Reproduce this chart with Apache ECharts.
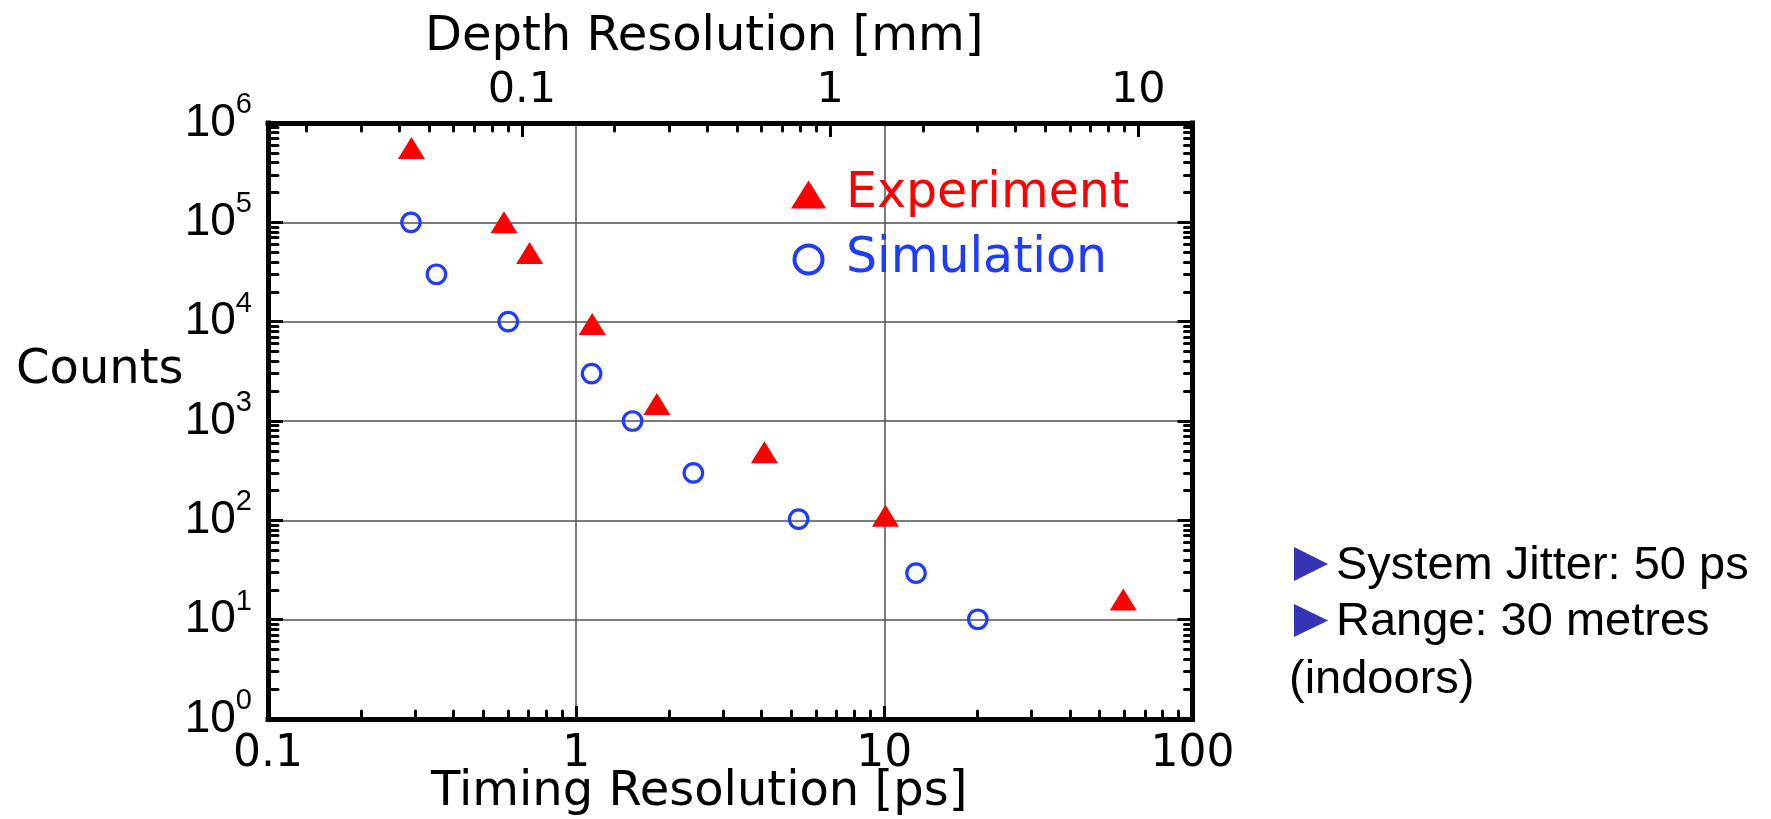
<!DOCTYPE html>
<html>
<head>
<meta charset="utf-8">
<script src="https://cdn.jsdelivr.net/npm/echarts@6/dist/echarts.min.js"></script>
<style>
html,body{margin:0;padding:0;background:#ffffff;}
#chart{width:1771px;height:819px;}
</style>
</head>
<body>
<div id="chart"></div>
<script>
// ---- data ----
const expTiming = [0.292, 0.583, 0.706, 1.127, 1.827, 4.08, 10.08, 59.6];   // ps
const expCounts = [5.6e5, 1.0e5, 4.9e4, 9.5e3, 1.48e3, 486, 111, 16];
const simTiming = [0.291, 0.352, 0.602, 1.122, 1.524, 2.40, 5.27, 12.67, 20.1]; // ps
const simCounts = [1.0e5, 3.0e4, 1.0e4, 3.0e3, 1.0e3, 300, 103, 29.4, 10.1];

// ---- axes / ticks ----
const timingRange = [0.1, 100];          // ps
const depthPerPs = 0.15;                 // mm per ps (c/2)
const timingTicks = [0.1, 1, 10, 100];
const timingMinorTicks = [0.2,0.3,0.4,0.5,0.6,0.7,0.8,0.9, 2,3,4,5,6,7,8,9, 20,30,40,50,60,70,80,90];
const depthTicks = [0.1, 1, 10];
const depthMinorTicks = [0.02,0.03,0.04,0.05,0.06,0.07,0.08,0.09, 0.2,0.3,0.4,0.5,0.6,0.7,0.8,0.9, 2,3,4,5,6,7,8,9];
const countRange = [1, 1e6];
const countTicks = [1, 10, 100, 1e3, 1e4, 1e5, 1e6];
const countMinorMantissas = [2,3,4,5,6,7,8,9];
const countMinorDecades = [1, 10, 100, 1e3, 1e4, 1e5];
const countMinorTicks = [];
countMinorDecades.forEach(d => countMinorMantissas.forEach(m => countMinorTicks.push(m * d)));

const legendNames = ['Experiment', 'Simulation'];
const notes = ['System Jitter: 50 ps', 'Range: 30 metres', '(indoors)'];
const axisTitles = { timing: 'Timing Resolution [ps]', depth: 'Depth Resolution [mm]', counts: 'Counts' };

const RED = '#ff0000';
const BLUE = '#1e3cff';
const BULLET = '#3434b4';
const GRID = '#505050';

const depthRange = [timingRange[0] * depthPerPs, timingRange[1] * depthPerPs];
const fmtNum = v => String(+Number(v).toPrecision(6));

function majorAxis(extra) {
  return Object.assign({
    type: 'log', logBase: 10,
    axisLine: { show: true, onZero: false, lineStyle: { color: '#000', width: 5, cap: 'square' } },
    minorTick: { show: false }, minorSplitLine: { show: false }
  }, extra);
}
function minorAxis(extra, len, ticks) {
  return Object.assign({
    type: 'log', logBase: 10,
    axisLine: { show: false, onZero: false },
    axisTick: { show: true, inside: true, length: len, customValues: ticks,
                lineStyle: { color: '#000', width: 3, cap: 'round' } },
    axisLabel: { show: false },
    splitLine: { show: false },
    minorTick: { show: false }, minorSplitLine: { show: false }
  }, extra);
}

const chart = echarts.init(document.getElementById('chart'), null, { renderer: 'canvas' });

const option = {
  animation: false,
  backgroundColor: '#ffffff',
  grid: { left: 268, right: 578.5, top: 123, bottom: 100, containLabel: false, outerBoundsMode: 'none' },
  legend: {
    orient: 'vertical', left: 791, top: 167.5, padding: 0,
    itemWidth: 35, itemHeight: 28, itemGap: 11,
    selectedMode: false,
    textStyle: { fontFamily: 'DejaVu Sans', fontSize: 49, lineHeight: 49, padding: [5, 0, 0, 15] },
    data: [
      { name: legendNames[0], icon: 'triangle', itemStyle: { color: RED, opacity: 1 }, textStyle: { color: RED } },
      { name: legendNames[1], icon: 'circle',
        itemStyle: { color: 'rgba(0,0,0,0)', borderColor: BLUE, borderWidth: 4, opacity: 1 },
        textStyle: { color: BLUE } }
    ]
  },
  xAxis: [
    majorAxis({
      position: 'bottom', min: timingRange[0], max: timingRange[1],
      axisTick: { show: true, inside: true, length: 13, customValues: timingTicks,
                  lineStyle: { color: '#000', width: 3 } },
      axisLabel: { show: true, customValues: timingTicks, formatter: fmtNum, margin: 14,
                   fontFamily: 'DejaVu Sans', fontSize: 44, color: '#000' },
      splitLine: { show: true, lineStyle: { color: GRID, width: 1.5 } },
      name: axisTitles.timing, nameLocation: 'middle', nameGap: 50, nameMoveOverlap: false,
      nameTextStyle: { fontFamily: 'DejaVu Sans', fontSize: 48, color: '#000', padding: [0, 62, 0, 0] }
    }),
    minorAxis({ position: 'bottom', min: timingRange[0], max: timingRange[1] }, 8, timingMinorTicks),
    majorAxis({
      position: 'top', min: depthRange[0], max: depthRange[1],
      axisTick: { show: true, inside: true, length: 14, customValues: depthTicks,
                  lineStyle: { color: '#000', width: 3 } },
      axisLabel: { show: true, customValues: depthTicks, formatter: fmtNum, margin: 11,
                   fontFamily: 'DejaVu Sans', fontSize: 43, color: '#000' },
      splitLine: { show: false },
      name: axisTitles.depth, nameLocation: 'middle', nameGap: 61,
      nameTextStyle: { fontFamily: 'DejaVu Sans', fontSize: 48, color: '#000', padding: [0, 52, 0, 0] }
    }),
    minorAxis({ position: 'top', min: depthRange[0], max: depthRange[1] }, 8, depthMinorTicks)
  ],
  yAxis: [
    majorAxis({
      position: 'left', min: countRange[0], max: countRange[1],
      axisTick: { show: true, inside: true, length: 15, customValues: countTicks,
                  lineStyle: { color: '#000', width: 3 } },
      axisLabel: {
        show: true, customValues: countTicks, margin: 16, color: '#000',
        formatter: v => '{b|10}{s|' + Math.round(Math.log10(v)) + '}',
        rich: {
          b: { fontFamily: 'Liberation Sans', fontSize: 46, lineHeight: 65, color: '#000' },
          s: { fontFamily: 'Liberation Sans', fontSize: 29, lineHeight: 29, verticalAlign: 'top', color: '#000' }
        }
      },
      splitLine: { show: true, lineStyle: { color: GRID, width: 1.5 } }
    }),
    minorAxis({ position: 'left', min: countRange[0], max: countRange[1] }, 10, countMinorTicks),
    majorAxis({
      position: 'right', min: countRange[0], max: countRange[1],
      axisTick: { show: true, inside: true, length: 15, customValues: countTicks,
                  lineStyle: { color: '#000', width: 3 } },
      axisLabel: { show: false },
      splitLine: { show: false }
    }),
    minorAxis({ position: 'right', min: countRange[0], max: countRange[1] }, 8, countMinorTicks)
  ],
  series: [
    {
      type: 'scatter', name: legendNames[0], xAxisIndex: 0, yAxisIndex: 0,
      data: expTiming.map((t, i) => [t, expCounts[i]]),
      symbol: 'triangle', symbolSize: [27, 22],
      itemStyle: { color: RED, opacity: 1 }, z: 5
    },
    {
      type: 'scatter', name: legendNames[1], xAxisIndex: 0, yAxisIndex: 0,
      data: simTiming.map((t, i) => [t, simCounts[i]]),
      symbol: 'circle', symbolSize: 18.5,
      itemStyle: { color: 'rgba(0,0,0,0)', borderColor: BLUE, borderWidth: 3.2, opacity: 1 }, z: 5
    }
  ],
  graphic: [
    { type: 'text', x: 16, y: 371,
      style: { text: axisTitles.counts, font: '48px "DejaVu Sans"', fill: '#000', align: 'left', verticalAlign: 'middle' } },
    { type: 'polygon', shape: { points: [[1294, 547], [1328, 564], [1294, 581]] }, style: { fill: BULLET } },
    { type: 'polygon', shape: { points: [[1294, 604], [1328, 620.5], [1294, 637]] }, style: { fill: BULLET } },
    { type: 'text', x: 1336, y: 566,
      style: { text: notes[0], font: '47px "Liberation Sans"', fill: '#000', align: 'left', verticalAlign: 'middle' } },
    { type: 'text', x: 1336, y: 622,
      style: { text: notes[1], font: '47px "Liberation Sans"', fill: '#000', align: 'left', verticalAlign: 'middle' } },
    { type: 'text', x: 1289, y: 680,
      style: { text: notes[2], font: '47px "Liberation Sans"', fill: '#000', align: 'left', verticalAlign: 'middle' } }
  ]
};
chart.setOption(option);
</script>
</body>
</html>
